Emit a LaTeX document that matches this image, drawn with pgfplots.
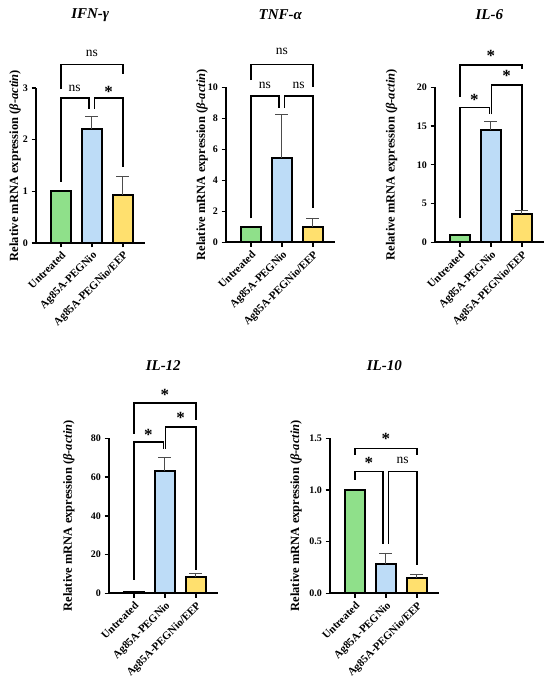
\documentclass[border=0pt]{standalone}
\usepackage{pgfplots}
\pgfplotsset{compat=1.18}
\usepackage{fontspec}
\setmainfont{Liberation Serif}
\definecolor{cg}{HTML}{8FE08A}
\definecolor{cb}{HTML}{BDDCF7}
\definecolor{cy}{HTML}{FFE06E}
\newcommand{\brk}[5]{\draw[line width=1.4pt, black] (axis cs:#1,#4) -- (axis cs:#1,#3) -- (axis cs:#2,#3) -- (axis cs:#2,#5);}
\newcommand{\ns}[2]{\node[inner sep=0pt, font=\fontsize{13.5}{13.5}\selectfont] at (axis cs:#1,#2) {ns};}
\newcommand{\st}[2]{\node[inner sep=0pt, yshift=-3pt, font=\bfseries\fontsize{17}{17}\selectfont] at (axis cs:#1,#2) {*};}
\pgfplotsset{
 panel/.style={
  scale only axis, width=108.5pt, height=155pt, anchor=south west,
  xmin=-0.8, xmax=2.7, ymin=0,
  axis x line*=bottom, axis y line*=left,
  axis line style={line width=1.7pt, -},
  tick style={line width=1.4pt, black},
  tick align=outside, major tick length=4.5pt,
  xtick={0,1,2}, xticklabels={Untreated, Ag85A-PEGNio, Ag85A-PEGNio/EEP},
  x tick label style={rotate=45, anchor=north east, font=\bfseries\fontsize{11}{12}\selectfont, inner sep=2pt},
  y tick label style={font=\bfseries\fontsize{10}{12}\selectfont},
  /pgf/number format/assume math mode=true,
  ylabel={Relative mRNA expression (\textit{β-actin})},
  every axis y label/.style={at={(axis description cs:-0.2,0.5)}, rotate=90, anchor=center, font=\bfseries\fontsize{12.5}{14}\selectfont},
  title style={at={(axis description cs:0.5,1.43)}, anchor=center, font=\bfseries\itshape\fontsize{15}{17}\selectfont},
  clip=false,
  every axis plot/.append style={ybar, bar width=20pt, bar shift=0pt, draw=black, line width=2pt},
  error bars/y dir=plus, error bars/y explicit,
  error bars/error bar style={line width=0.9pt, black!70},
  error bars/error mark options={rotate=90, mark size=6.5pt, line width=0.9pt, black!70},
 }
}
\begin{document}
\begin{tikzpicture}
\path[use as bounding box] (0pt,0pt) rectangle (550pt,696pt);
% IFN-gamma
\begin{axis}[panel, at={(36pt,453pt)}, ymax=3, ytick={0,1,2,3}, title={IFN-γ},
  ylabel style={at={(axis description cs:-0.194,0.5)}}]
\addplot[fill=cg] coordinates {(0,1.0)};
\addplot[fill=cb] coordinates {(1,2.2) +- (0,0.24)};
\addplot[fill=cy] coordinates {(2,0.93) +- (0,0.35)};
\brk{0}{2}{3.45}{2.98}{3.27}\ns{1}{3.67}
\brk{0}{0.91}{2.81}{1.19}{2.6}\ns{0.45}{2.99}
\brk{1.08}{2}{2.81}{2.6}{1.48}\st{1.54}{2.99}
\end{axis}
% TNF-alpha
\begin{axis}[panel, at={(226pt,453.7pt)}, ymax=10, ytick={0,2,4,6,8,10}, title={TNF-α},
  ylabel style={at={(axis description cs:-0.22,0.5)}}]
\addplot[fill=cg] coordinates {(0,1.0)};
\addplot[fill=cb] coordinates {(1,5.46) +- (0,2.8)};
\addplot[fill=cy] coordinates {(2,0.98) +- (0,0.54)};
\brk{0}{2}{11.48}{10.47}{10.0}\ns{1}{12.3}
\brk{0}{0.91}{9.44}{1.55}{8.65}\ns{0.45}{10.13}
\brk{1.08}{2}{9.44}{8.65}{2.2}\ns{1.54}{10.13}
\end{axis}
% IL-6
\begin{axis}[panel, at={(435pt,453.7pt)}, ymax=20, ytick={0,5,10,15,20}, title={IL-6},
  ylabel style={at={(axis description cs:-0.40,0.5)}}]
\addplot[fill=cg] coordinates {(0,1.0)};
\addplot[fill=cb] coordinates {(1,14.5) +- (0,1.1)};
\addplot[fill=cy] coordinates {(2,3.7) +- (0,0.4)};
\brk{0}{2}{22.9}{18.8}{22.3}\st{1}{24.45}
\brk{0}{0.95}{17.4}{3.1}{16.5}\st{0.47}{18.8}
\brk{1.02}{2}{20.3}{16.5}{4.2}\st{1.51}{21.9}
\end{axis}
% IL-12
\begin{axis}[panel, at={(109pt,102.7pt)}, ymax=80, ytick={0,20,40,60,80}, title={IL-12},
  ylabel style={at={(axis description cs:-0.37,0.5)}}]
\addplot[fill=cg] coordinates {(0,0.9)};
\addplot[fill=cb] coordinates {(1,63) +- (0,7.2)};
\addplot[fill=cy] coordinates {(2,8.2) +- (0,2.1)};
\brk{0}{2}{98.2}{82.4}{89.3}\st{1}{103.9}
\brk{0}{0.95}{78}{6.9}{74.7}\st{0.47}{83.3}
\brk{1.02}{2}{85.8}{74.7}{12}\st{1.51}{92.2}
\end{axis}
% IL-10
\begin{axis}[panel, at={(330pt,102.7pt)}, ymax=1.5, ytick={0,0.5,1,1.5},
  yticklabel style={/pgf/number format/.cd, fixed, fixed zerofill, precision=1}, title={IL-10},
  ylabel style={at={(axis description cs:-0.313,0.5)}}]
\addplot[fill=cg] coordinates {(0,1.0)};
\addplot[fill=cb] coordinates {(1,0.28) +- (0,0.11)};
\addplot[fill=cy] coordinates {(2,0.15) +- (0,0.03)};
\brk{0}{2}{1.40}{1.34}{1.34}\st{1}{1.52}
\brk{0}{0.91}{1.18}{1.10}{0.48}\st{0.45}{1.29}
\brk{1.08}{2}{1.18}{0.48}{0.27}\ns{1.54}{1.29}
\end{axis}
\end{tikzpicture}
\end{document}
